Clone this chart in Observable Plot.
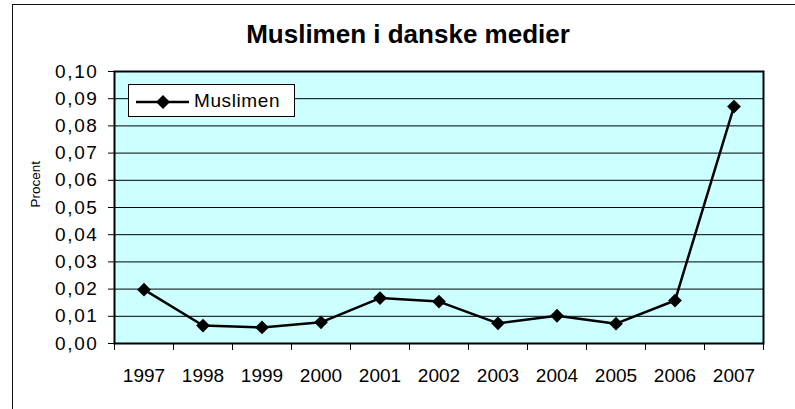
<!DOCTYPE html>
<html>
<head>
<meta charset="utf-8">
<script src="https://cdn.jsdelivr.net/npm/d3@7"></script>
<script src="https://cdn.jsdelivr.net/npm/@observablehq/plot@0.6"></script>
<style>
  html, body { margin: 0; padding: 0; background: #fff; overflow: hidden; }
  body { width: 795px; height: 409px; position: relative; font-family: Arial, "Liberation Sans", sans-serif; }
  #frame { position: absolute; left: 12px; top: 4px; width: 820px; height: 440px; border: 1.5px solid #111; box-sizing: border-box; }
  #chart { position: absolute; left: 0; top: 0; }
  #title { position: absolute; left: 0; width: 816px; top: 21px; text-align: center; font-weight: bold; font-size: 26px; line-height: 26px; color: #000; }
  #legend { position: absolute; left: 128px; top: 84px; width: 167px; height: 33px; border: 1px solid #000; background: #fff; box-sizing: border-box; }
  #legend svg { position: absolute; left: 6px; top: 7px; }
  #legend span { position: absolute; left: 65px; top: 5px; font-size: 19px; line-height: 22px; letter-spacing: 0.6px; }
  g[aria-label="y-axis tick label"] text { letter-spacing: 1.6px; }
  g[aria-label="x-labels"] text { letter-spacing: 0.9px; }
</style>
</head>
<body>
<div id="frame"></div>
<div id="chart"></div>
<div id="title">Muslimen i danske medier</div>
<div id="legend"><svg width="56" height="20"><line x1="1" y1="10" x2="54" y2="10" stroke="#000" stroke-width="2.5"/><path d="M28,3L35,10L28,17L21,10Z" fill="#000"/></svg><span>Muslimen</span></div>
<script>
const seriesName = "Muslimen";
const years = [1997, 1998, 1999, 2000, 2001, 2002, 2003, 2004, 2005, 2006, 2007];
const values = [0.0198, 0.0066, 0.0059, 0.0078, 0.0167, 0.0154, 0.0074, 0.0102, 0.0073, 0.0158, 0.0871];
const yTicks = [0, 0.01, 0.02, 0.03, 0.04, 0.05, 0.06, 0.07, 0.08, 0.09, 0.10];
const yTickLabels = ["0,00", "0,01", "0,02", "0,03", "0,04", "0,05", "0,06", "0,07", "0,08", "0,09", "0,10"];
const xBoundaries = [1996.5, 1997.5, 1998.5, 1999.5, 2000.5, 2001.5, 2002.5, 2003.5, 2004.5, 2005.5, 2006.5, 2007.5];
const yLabel = "Procent";

const data = years.map((year, i) => ({year, value: values[i]}));

const chart = Plot.plot({
  width: 795,
  height: 409,
  marginLeft: 114,
  marginRight: 32,
  marginTop: 71,
  marginBottom: 66,
  style: {fontFamily: "Arial, 'Liberation Sans', sans-serif", background: "transparent", color: "#000", overflow: "visible"},
  x: {domain: [xBoundaries[0], xBoundaries[xBoundaries.length - 1]]},
  y: {domain: [0, 0.10]},
  marks: [
    Plot.frame({fill: "#CCFFFF"}),
    Plot.gridY(yTicks, {stroke: "#000", strokeOpacity: 1, strokeWidth: 1}),
    Plot.frame({stroke: "#000", strokeWidth: 2}),
    Plot.axisY(yTicks, {
      tickSize: 6, tickPadding: 10, fontSize: 19,
      tickFormat: (d, i) => yTickLabels[i], label: null, stroke: "#000"
    }),
    Plot.axisX(xBoundaries, {tickSize: 7, tickFormat: () => "", label: null, stroke: "#000"}),
    Plot.text(years, {x: d => d, y: 0, text: d => String(d), dy: 32, fontSize: 19, ariaLabel: "x-labels"}),
    Plot.text([yLabel], {frameAnchor: "left", text: d => d, rotate: -90, dx: -79, fontSize: 13.5}),
    Plot.line(data, {x: "year", y: "value", stroke: "#000", strokeWidth: 2.5}),
    Plot.dot(data, {x: "year", y: "value", symbol: "diamond2", r: 6.2, fill: "#000", stroke: "none"})
  ]
});
document.getElementById("chart").appendChild(chart);
</script>
</body>
</html>
